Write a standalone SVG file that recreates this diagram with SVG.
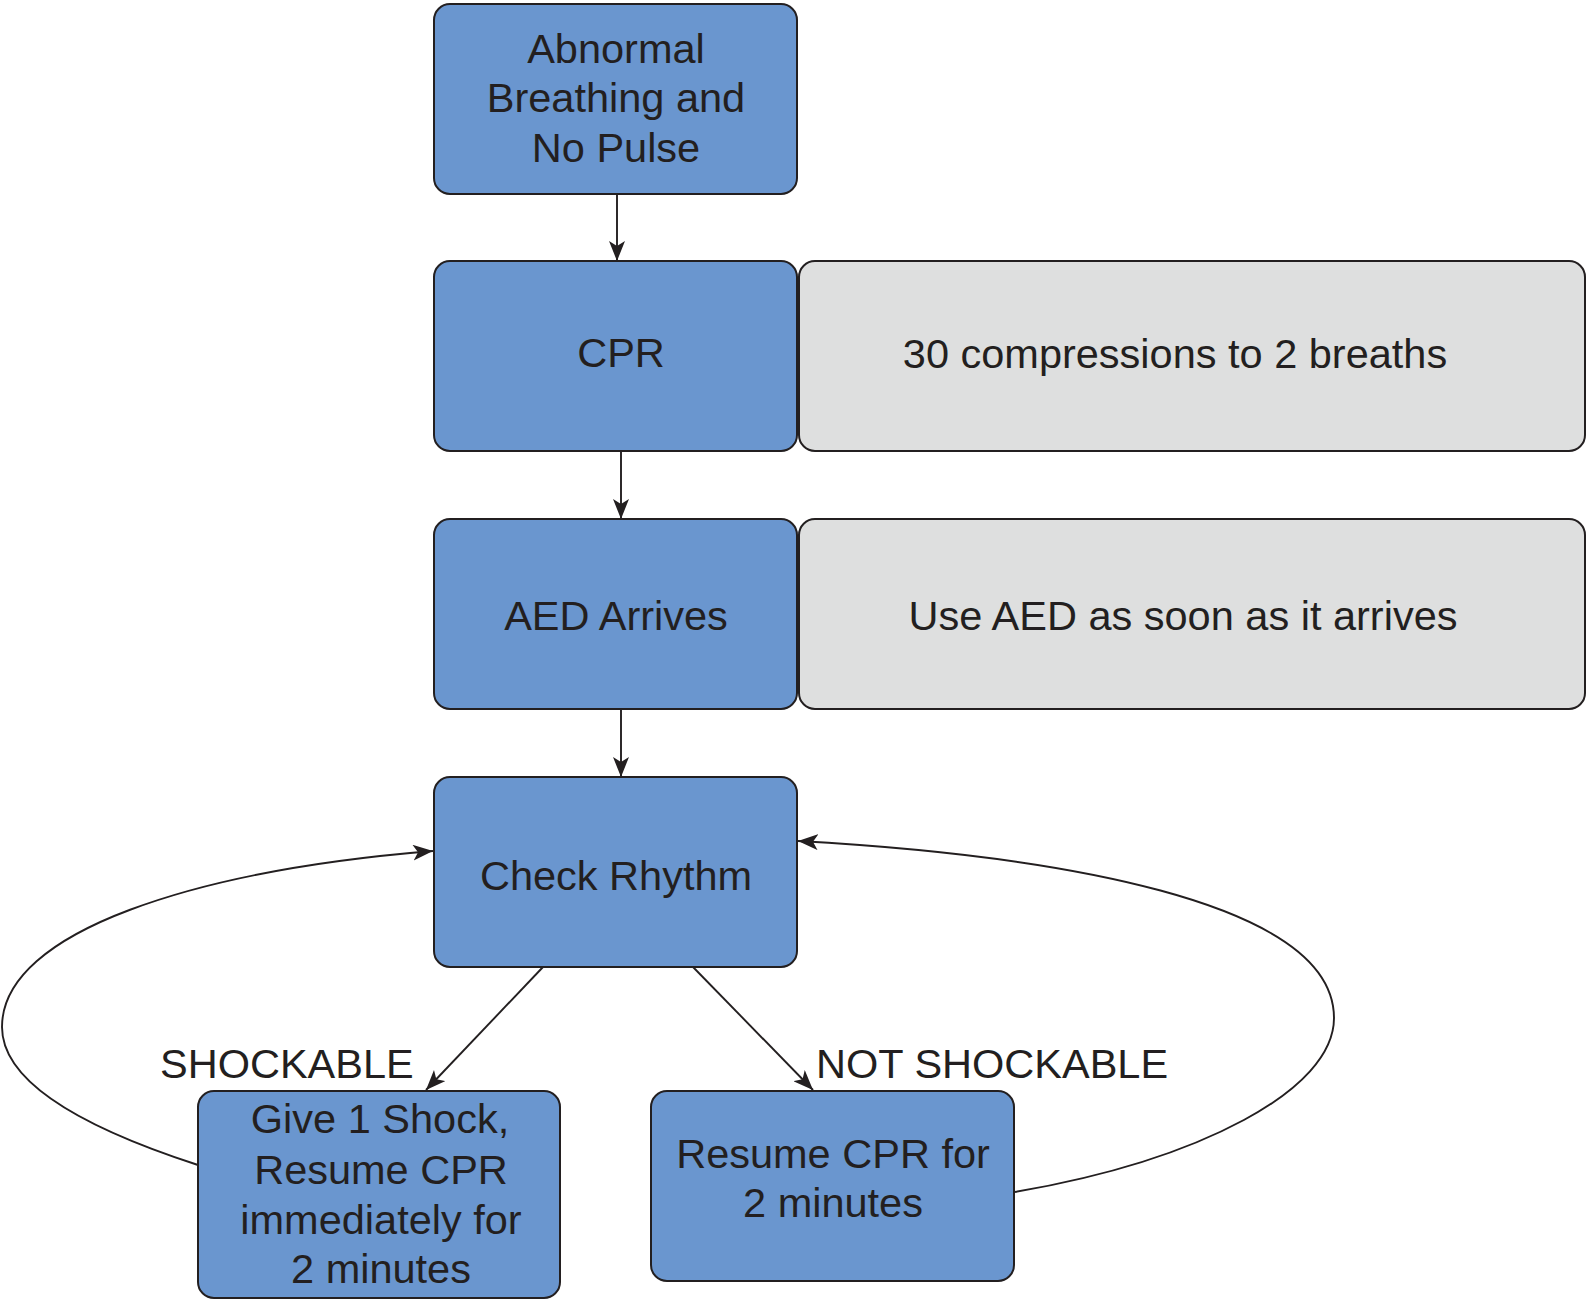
<svg xmlns="http://www.w3.org/2000/svg" width="1588" height="1300" viewBox="0 0 1588 1300">
<style>
.blue{fill:#6A96CF;stroke:#231F20;stroke-width:2}
.gray{fill:#DEDFDF;stroke:#231F20;stroke-width:2}
text{font-family:"Liberation Sans",Arial,sans-serif;font-size:41.5px;fill:#231F20;text-anchor:middle}
.lbl{text-anchor:start}
.con{fill:none;stroke:#231F20;stroke-width:1.9}
</style>
<defs>
<marker id="ah" markerUnits="userSpaceOnUse" markerWidth="20" markerHeight="16" refX="20" refY="8" orient="auto" viewBox="0 0 20 16">
<path d="M0,0 L20,8 L0,16 L5,8 z" fill="#231F20"/>
</marker>
</defs>
<rect width="1588" height="1300" fill="#ffffff"/>
<g id="connectors">
<line class="con" x1="617" y1="194" x2="617" y2="261" marker-end="url(#ah)"/>
<line class="con" x1="621" y1="451" x2="621" y2="519" marker-end="url(#ah)"/>
<line class="con" x1="621" y1="709" x2="621" y2="777" marker-end="url(#ah)"/>
<line class="con" x1="543" y1="967" x2="426" y2="1090" marker-end="url(#ah)"/>
<line class="con" x1="693" y1="967" x2="813" y2="1090" marker-end="url(#ah)"/>
<path class="con" d="M198,1165 C90,1130 2,1085 2,1027 C2,930 200,870 433,851" marker-end="url(#ah)"/>
<path class="con" d="M1015,1192 C1200,1160 1334,1090 1334,1018 C1334,900 1050,855 798,841" marker-end="url(#ah)"/>
</g>
<g id="n-abnormal">
<rect class="blue" x="434" y="4" width="363" height="190" rx="16"/>
<text x="616" y="63">Abnormal</text>
<text x="616" y="112">Breathing and</text>
<text x="616" y="162">No Pulse</text>
</g>
<g id="n-cpr">
<rect class="blue" x="434" y="261" width="363" height="190" rx="16"/>
<text x="621" y="367">CPR</text>
</g>
<g id="n-cpr-note">
<rect class="gray" x="799" y="261" width="786" height="190" rx="16"/>
<text x="1175" y="368">30 compressions to 2 breaths</text>
</g>
<g id="n-aed">
<rect class="blue" x="434" y="519" width="363" height="190" rx="16"/>
<text x="616" y="630">AED Arrives</text>
</g>
<g id="n-aed-note">
<rect class="gray" x="799" y="519" width="786" height="190" rx="16"/>
<text x="1183" y="630">Use AED as soon as it arrives</text>
</g>
<g id="n-check">
<rect class="blue" x="434" y="777" width="363" height="190" rx="16"/>
<text x="616" y="890">Check Rhythm</text>
</g>
<g id="labels">
<text class="lbl" x="160" y="1078">SHOCKABLE</text>
<text class="lbl" x="816" y="1078">NOT SHOCKABLE</text>
</g>
<g id="n-shock">
<rect class="blue" x="198" y="1091" width="362" height="207" rx="16"/>
<text x="380" y="1133">Give 1 Shock,</text>
<text x="381" y="1184">Resume CPR</text>
<text x="381" y="1234">immediately for</text>
<text x="381" y="1283">2 minutes</text>
</g>
<g id="n-resume">
<rect class="blue" x="651" y="1091" width="363" height="190" rx="16"/>
<text x="833" y="1168">Resume CPR for</text>
<text x="833" y="1217">2 minutes</text>
</g>
</svg>
